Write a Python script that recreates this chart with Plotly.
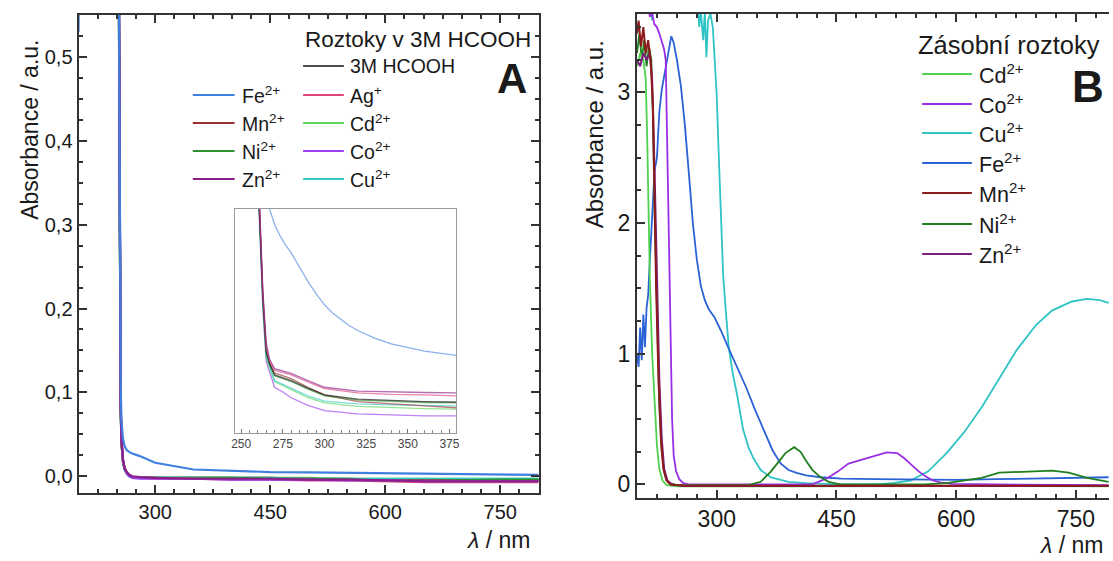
import plotly.graph_objects as go

FONT = "Liberation Sans, Arial, sans-serif"
W, H = 1113, 561

# ---------------- Panel A : main spectra (3M HCOOH solutions) ----------------
wl_a = [200, 248, 251, 252, 253, 254, 255, 256, 258, 260, 263, 266, 270, 280, 300,
        350, 400, 450, 500, 550, 600, 650, 700, 750, 800]
wl_a_fe = [200, 201.5, 248, 251, 252, 253, 254, 255, 256, 258, 260, 263, 266, 270, 280,
           300, 350, 400, 450, 500, 550, 600, 650, 700, 750, 800]
a_fe = [0.53, 0.9, 0.9, 0.9, 0.75, 0.45, 0.22, 0.11, 0.065, 0.045, 0.036, 0.031, 0.029, 0.027,
        0.024, 0.016, 0.008, 0.0065, 0.005, 0.0045, 0.004, 0.0035, 0.003, 0.0025, 0.002, 0.0015]
a_hcooh = [0.9, 0.9, 0.9, 0.70, 0.40, 0.18, 0.080, 0.040, 0.018, 0.009, 0.004, 0.001, -0.001, -0.002,
           -0.002, -0.002, -0.002, -0.002, -0.003, -0.003, -0.004, -0.004, -0.004, -0.004, -0.004]
a_mn = [0.9, 0.9, 0.9, 0.72, 0.42, 0.19, 0.085, 0.042, 0.019, 0.010, 0.004, 0.001, -0.001, -0.002,
        -0.002, -0.003, -0.003, -0.003, -0.003, -0.004, -0.005, -0.005, -0.005, -0.005, -0.005]
a_ni = [0.9, 0.9, 0.9, 0.70, 0.40, 0.18, 0.080, 0.040, 0.018, 0.009, 0.004, 0.001, -0.001, -0.002,
        -0.002, -0.002, -0.002, -0.003, -0.003, -0.004, -0.005, -0.006, -0.005, -0.004, -0.004]
a_zn = [0.9, 0.9, 0.9, 0.75, 0.45, 0.20, 0.090, 0.045, 0.020, 0.010, 0.005, 0.002, 0.000, -0.001,
        -0.002, -0.003, -0.003, -0.003, -0.004, -0.004, -0.005, -0.006, -0.006, -0.006, -0.006]
a_ag = [0.9, 0.9, 0.9, 0.72, 0.42, 0.19, 0.085, 0.042, 0.019, 0.010, 0.004, 0.001, -0.001, -0.002,
        -0.003, -0.003, -0.004, -0.004, -0.005, -0.005, -0.006, -0.007, -0.007, -0.007, -0.007]
a_cd = [0.9, 0.9, 0.9, 0.68, 0.38, 0.17, 0.075, 0.038, 0.016, 0.008, 0.003, 0.000, -0.001, -0.002,
        -0.002, -0.002, -0.002, -0.002, -0.002, -0.003, -0.003, -0.003, -0.003, -0.003, -0.003]
a_co = [0.9, 0.9, 0.9, 0.74, 0.44, 0.20, 0.088, 0.044, 0.019, 0.009, 0.003, 0.000, -0.002, -0.003,
        -0.003, -0.003, -0.004, -0.004, -0.004, -0.005, -0.005, -0.006, -0.006, -0.006, -0.006]
a_cu = [0.9, 0.9, 0.9, 0.70, 0.40, 0.18, 0.080, 0.040, 0.017, 0.008, 0.003, 0.000, -0.001, -0.002,
        -0.002, -0.002, -0.002, -0.002, -0.003, -0.003, -0.003, -0.003, -0.003, -0.003, -0.003]

# ---------------- Panel A : inset (zoom 246-379 nm) ----------------
wl_i = [246, 259, 261, 263, 265, 267, 270, 275, 280, 290, 300, 320, 340, 360, 379]
wl_i_fe = [246, 265, 267, 270, 273, 276, 280, 285, 290, 295, 300, 305, 310, 315, 320,
           330, 340, 350, 360, 370, 379]
i_fe = [0.05, 0.05, 0.039, 0.0358, 0.0336, 0.0318, 0.0298, 0.0268, 0.0238, 0.0212, 0.0189,
        0.0171, 0.0157, 0.0145, 0.0135, 0.0119, 0.0107, 0.0099, 0.0092, 0.0087, 0.0083]
i_zn = [0.05, 0.05, 0.040, 0.022, 0.011, 0.0075, 0.0055, 0.0050, 0.0045, 0.0030, 0.0016, 0.0008, 0.0006, 0.0005, 0.0004]
i_ag = [0.05, 0.05, 0.040, 0.021, 0.010, 0.0072, 0.0052, 0.0047, 0.0042, 0.0027, 0.0013, 0.0004, 0.0001, 0.0000, -0.0002]
i_hcooh = [0.05, 0.05, 0.038, 0.020, 0.009, 0.0065, 0.0042, 0.0036, 0.0030, 0.0014, 0.0000, -0.0009, -0.0012, -0.0014, -0.0015]
i_ni = [0.05, 0.05, 0.038, 0.020, 0.009, 0.0064, 0.0040, 0.0034, 0.0028, 0.0012, -0.0002, -0.0011, -0.0014, -0.0016, -0.0017]
i_mn = [0.05, 0.05, 0.039, 0.021, 0.010, 0.0068, 0.0046, 0.0040, 0.0034, 0.0016, 0.0000, -0.0014, -0.0019, -0.0023, -0.0027]
i_cu = [0.05, 0.05, 0.037, 0.019, 0.008, 0.0058, 0.0030, 0.0022, 0.0014, -0.0002, -0.0013, -0.0019, -0.0021, -0.0022, -0.0023]
i_cd = [0.05, 0.05, 0.037, 0.019, 0.008, 0.0056, 0.0028, 0.0020, 0.0011, -0.0006, -0.0017, -0.0024, -0.0027, -0.0029, -0.0030]
i_co = [0.05, 0.05, 0.036, 0.018, 0.007, 0.0048, 0.0016, 0.0006, -0.0006, -0.0022, -0.0033, -0.0040, -0.0042, -0.0044, -0.0044]

# ---------------- Panel B : stock solutions ----------------
wl_b_cd = [200, 204, 208, 211, 213, 216, 219, 222, 225, 228, 232, 237, 250, 400, 600, 791]
b_cd = [3.2, 3.3, 3.25, 3.1, 2.6, 1.6, 1.0, 0.6, 0.3, 0.12, 0.03, -0.005, -0.015, -0.015, -0.012, -0.015]

wl_b_co = [200, 214, 216, 219, 222, 225, 228, 231, 234, 236, 238, 240, 242, 244, 246, 249, 253, 258,
           265, 420, 439, 452, 465, 487, 500, 513, 526, 535, 544, 553, 562, 571, 580, 595, 650, 791]
b_co = [3.7, 3.7, 3.58, 3.6, 3.52, 3.5, 3.45, 3.38, 3.33, 3.25, 2.6, 1.9, 1.2, 0.5, 0.22, 0.1, 0.04, 0.01,
        0.0, 0.0, 0.05, 0.1, 0.16, 0.2, 0.22, 0.245, 0.24, 0.2, 0.15, 0.1, 0.06, 0.03, 0.015, 0.005, 0.0, -0.005]

wl_b_cu = [200, 217, 219, 221, 276, 278, 280, 283, 285, 287, 289, 292, 295, 298, 300, 302, 305, 308,
           311, 315, 320, 325, 333, 340, 346, 355, 368, 390, 412, 450, 500, 520, 543, 565, 588, 610,
           632, 655, 676, 700, 720, 745, 764, 780, 791]
b_cu = [3.7, 3.7, 3.55, 3.7, 3.7, 3.5, 3.62, 3.4, 3.62, 3.27, 3.55, 3.6, 3.5, 3.2, 2.97, 2.6, 2.1, 1.6,
        1.35, 1.05, 0.85, 0.7, 0.42, 0.28, 0.2, 0.11, 0.054, 0.02, 0.01, 0.0, 0.0, 0.01, 0.03, 0.1, 0.24, 0.4,
        0.59, 0.82, 1.03, 1.22, 1.33, 1.40, 1.42, 1.41, 1.39]

wl_b_fe = [200, 202, 204, 206, 208, 210, 212, 214, 216, 219, 222, 225, 228, 231, 236, 240, 243, 246,
           250, 255, 260, 265, 270, 275, 280, 285, 290, 297, 305, 315, 325, 337, 348, 359, 370, 380,
           390, 400, 412, 430, 456, 500, 550, 600, 650, 700, 750, 791]
b_fe = [1.0, 0.9, 1.2, 0.95, 1.3, 1.05, 1.35, 1.45, 1.7, 2.1, 2.4, 2.5, 2.85, 3.02, 3.2, 3.35, 3.43, 3.38,
        3.25, 3.05, 2.75, 2.38, 2.0, 1.72, 1.52, 1.41, 1.34, 1.28, 1.18, 1.04, 0.9, 0.74, 0.57, 0.41, 0.26,
        0.16, 0.11, 0.088, 0.07, 0.055, 0.045, 0.04, 0.035, 0.035, 0.04, 0.045, 0.05, 0.055]

wl_b_mn = [200, 202, 205, 208, 211, 214, 217, 220, 222, 224, 227, 230, 233, 237, 242, 260, 791]
b_mn = [3.45, 3.55, 3.35, 3.5, 3.3, 3.4, 3.25, 2.9, 2.2, 1.5, 0.8, 0.35, 0.12, 0.03, 0.0, -0.01, -0.01]

wl_b_ni = [200, 203, 206, 209, 212, 215, 218, 220, 222, 225, 228, 231, 235, 240, 250, 340, 355, 368,
           378, 386, 397, 405, 412, 420, 429, 440, 455, 560, 588, 610, 632, 654, 676, 700, 720, 741, 764, 791]
b_ni = [3.3, 3.45, 3.25, 3.4, 3.2, 3.35, 3.25, 2.8, 2.1, 1.3, 0.6, 0.25, 0.07, 0.01, -0.005, -0.005, 0.02,
        0.1, 0.18, 0.24, 0.285, 0.25, 0.18, 0.11, 0.06, 0.02, 0.0, 0.0, 0.01, 0.03, 0.05, 0.09, 0.095, 0.1,
        0.105, 0.09, 0.05, 0.02]

wl_b_zn = [200, 204, 208, 212, 216, 219, 222, 225, 228, 231, 234, 238, 244, 260, 791]
b_zn = [3.25, 3.2, 3.3, 3.25, 3.3, 3.1, 2.4, 1.5, 0.8, 0.35, 0.12, 0.03, 0.0, -0.012, -0.012]

# colours
C = {"Fe": "#3f7fe0", "Mn": "#9a3030", "Ni": "#2f8f2f", "Zn": "#8a1f8a", "HCOOH": "#111111",
     "Ag": "#e0457f", "Cd": "#5ad65a", "Co": "#9b3ff0", "Cu": "#35c8c8"}
CB = {"Cd": "#4fd04f", "Co": "#9a2ee6", "Cu": "#2fc3c6", "Fe": "#2b62d6", "Mn": "#8e1b1b",
      "Ni": "#1f7f1f", "Zn": "#7d1d7d"}

fig = go.Figure()


def add(x, y, color, width, xa, ya, opacity=1.0):
    fig.add_trace(go.Scatter(x=x, y=y, mode="lines", line=dict(color=color, width=width),
                             xaxis=xa, yaxis=ya, opacity=opacity, showlegend=False,
                             hoverinfo="skip"))


# Panel A main
for name, arr in [("HCOOH", a_hcooh), ("Cd", a_cd), ("Cu", a_cu), ("Mn", a_mn), ("Ni", a_ni),
                  ("Ag", a_ag), ("Co", a_co), ("Zn", a_zn)]:
    add(wl_a, arr, C[name], 2.2, "x", "y")
add(wl_a_fe, a_fe, C["Fe"], 2.2, "x", "y")

# Inset
add(wl_i_fe, i_fe, C["Fe"], 1.3, "x2", "y2", 0.6)
for name, arr in [("Co", i_co), ("Cd", i_cd), ("Cu", i_cu), ("Mn", i_mn), ("Ni", i_ni),
                  ("HCOOH", i_hcooh), ("Ag", i_ag), ("Zn", i_zn)]:
    add(wl_i, arr, C[name], 1.3, "x2", "y2", 0.65)

# Panel B
add(wl_b_cu, b_cu, CB["Cu"], 1.8, "x3", "y3")
add(wl_b_fe, b_fe, CB["Fe"], 1.8, "x3", "y3")
add(wl_b_co, b_co, CB["Co"], 1.8, "x3", "y3")
add(wl_b_ni, b_ni, CB["Ni"], 1.8, "x3", "y3")
add(wl_b_cd, b_cd, CB["Cd"], 1.8, "x3", "y3")
add(wl_b_zn, b_zn, CB["Zn"], 2.0, "x3", "y3")
add(wl_b_mn, b_mn, CB["Mn"], 2.0, "x3", "y3")


def px(x):
    return x / W


def py(y):
    return 1 - y / H


AX = "#333333"
common = dict(showline=True, linecolor=AX, linewidth=2, ticks="inside", tickcolor=AX,
              tickwidth=1.5, ticklen=8, showgrid=False, zeroline=False, mirror="ticks")

fig.update_layout(
    width=W, height=H, margin=dict(l=0, r=0, t=0, b=0),
    paper_bgcolor="white", plot_bgcolor="white", separators=", ",
    font=dict(family=FONT, color="#1a1a1a"),
    xaxis=dict(domain=[px(76), px(539)], range=[200, 800], anchor="y", tick0=0, dtick=150,
               tickfont=dict(size=20), minor=dict(dtick=25, ticklen=4, ticks="inside", tickcolor=AX),
               **common),
    yaxis=dict(domain=[py(493), py(15)], range=[-0.02, 0.55], anchor="x", tick0=0, dtick=0.1,
               tickformat=".1f", tickfont=dict(size=20),
               minor=dict(dtick=0.025, ticklen=4, ticks="inside", tickcolor=AX), **common),
    xaxis2=dict(domain=[px(233), px(456)], range=[246, 379], anchor="y2", tick0=0, dtick=25,
                showline=True, linecolor="#9a9a9a", linewidth=1, mirror=True, ticks="inside",
                ticklen=4, tickcolor="#777", tickfont=dict(size=12, color="#444"),
                minor=dict(dtick=5, ticklen=3, ticks="inside", tickcolor="#888"),
                showgrid=False, zeroline=False),
    yaxis2=dict(domain=[py(433), py(209)], range=[-0.008, 0.039], anchor="x2",
                showline=True, linecolor="#9a9a9a", linewidth=1, mirror=True, ticks="",
                showticklabels=False, showgrid=False, zeroline=False),
    xaxis3=dict(domain=[px(638), 1.0], range=[200, 791.5], anchor="y3", tick0=0, dtick=150,
                tickfont=dict(size=23), minor=dict(dtick=25, ticklen=4, ticks="inside", tickcolor=AX),
                **common),
    yaxis3=dict(domain=[py(497.5), py(14)], range=[-0.1, 3.6], anchor="x3", tick0=0, dtick=1,
                tickfont=dict(size=23), showline=True, linecolor=AX, linewidth=2, ticks="inside",
                tickcolor=AX, tickwidth=1.5, ticklen=8, showgrid=False, zeroline=False, mirror=False,
                minor=dict(dtick=0.25, ticklen=4, ticks="inside", tickcolor=AX)),
)

shapes = []
ann = []


def legline(x0, x1, y, color, width=2):
    shapes.append(dict(type="line", xref="paper", yref="paper", x0=px(x0), x1=px(x1),
                       y0=py(y), y1=py(y), line=dict(color=color, width=width)))


def text(x, y, s, size, xanchor="left", **kw):
    ann.append(dict(x=px(x), y=py(y), xref="paper", yref="paper", text=s, showarrow=False,
                    xanchor=xanchor, yanchor="middle", font=dict(size=size, family=FONT,
                                                                 color=kw.pop("color", "#1a1a1a")),
                    **kw))


# Panel A legend
text(533, 40, "Roztoky v 3M HCOOH", 22.5, xanchor="right")
legline(302, 343, 66, C["HCOOH"], 1.5)
text(347, 66, "3M HCOOH", 19.5)
left_col = [("Fe", "2+"), ("Mn", "2+"), ("Ni", "2+"), ("Zn", "2+")]
right_col = [("Ag", "+"), ("Cd", "2+"), ("Co", "2+"), ("Cu", "2+")]
rows = [95, 123, 151, 179]
for (n1, c1), (n2, c2), yy in zip(left_col, right_col, rows):
    legline(191, 233, yy, C[n1], 2.2)
    text(238, yy, f"{n1}<sup>{c1}</sup>", 19.5)
    legline(302, 343, yy, C[n2], 2.2)
    text(347, yy, f"{n2}<sup>{c2}</sup>", 19.5)
text(512, 78, "<b>A</b>", 42, xanchor="center")

# Panel B legend
text(919, 45, "Zásobní roztoky", 25.5)
b_rows = [("Cd", 74), ("Co", 104), ("Cu", 133), ("Fe", 163), ("Mn", 193), ("Ni", 224), ("Zn", 254)]
for n, yy in b_rows:
    legline(925, 975, yy, CB[n], 1.8)
    text(980, yy, f"{n}<sup>2+</sup>", 21.5)
text(1092, 87, "<b>B</b>", 44, xanchor="center")

# axis titles
text(27, 130, "Absorbance / a.u.", 23, xanchor="center", textangle=-90)
text(595, 134, "Absorbance / a.u.", 24, xanchor="center", textangle=-90)
text(532, 540, "<i>λ</i> / nm", 23, xanchor="right")
text(1109, 545, "<i>λ</i> / nm", 23, xanchor="right")

fig.update_layout(shapes=shapes, annotations=ann)
fig.write_html("out.html")
